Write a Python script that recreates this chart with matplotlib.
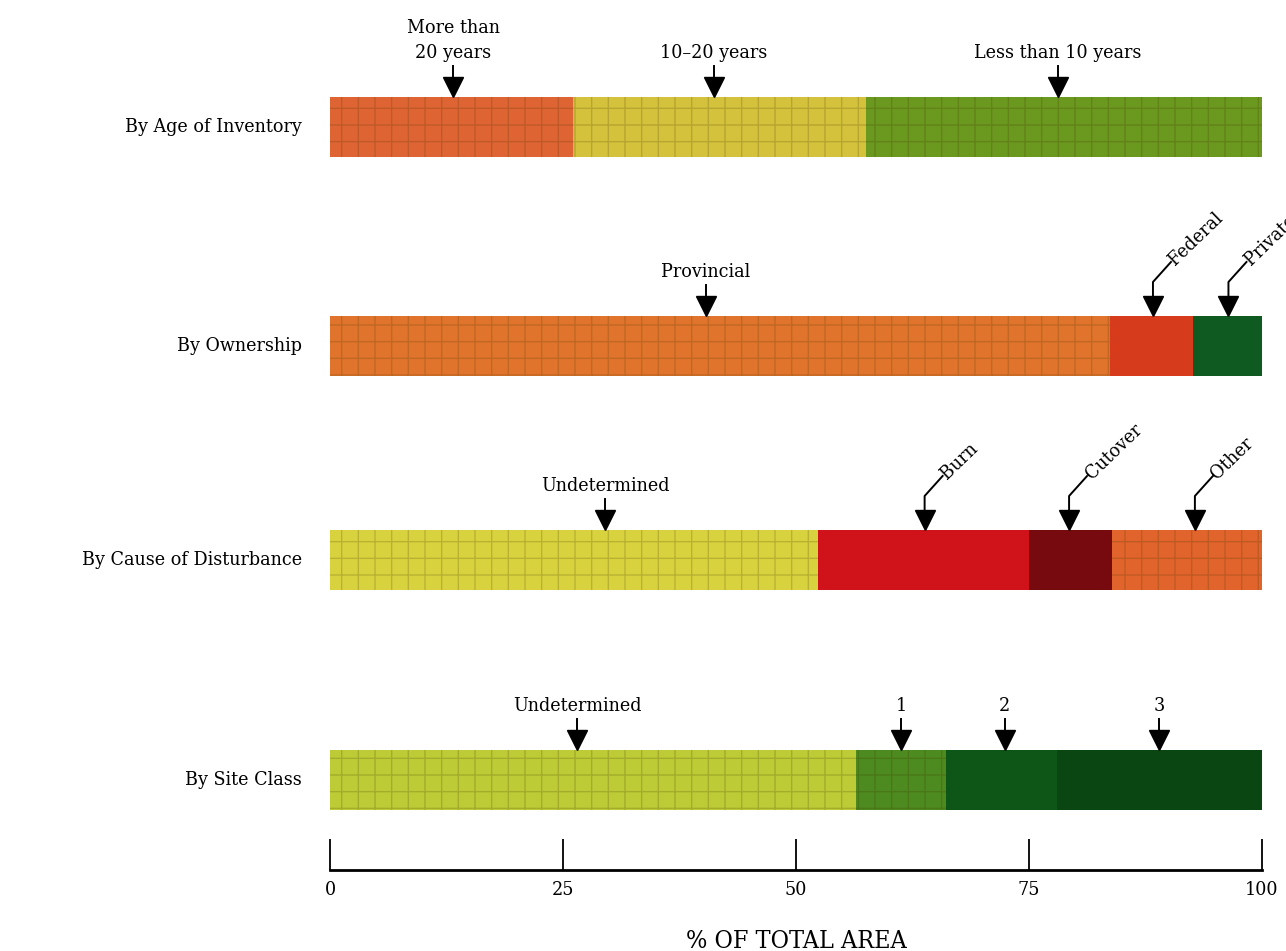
import matplotlib
matplotlib.use("Agg")
import matplotlib.pyplot as plt
import numpy as np

# rows of the chart, top to bottom
row_titles = ["By Age of Inventory", "By Ownership", "By Cause of Disturbance", "By Site Class"]

age_names = ["More than\n20 years", "10\u201320 years", "Less than 10 years"]
age_values = [26.1, 31.4, 42.5]
age_arrows = [13.2, 41.2, 78.1]

own_names = ["Provincial", "Federal", "Private"]
own_values = [83.7, 8.9, 7.4]
own_arrows = [40.3, 88.3, 96.4]

dist_names = ["Undetermined", "Burn", "Cutover", "Other"]
dist_values = [52.4, 22.6, 8.9, 16.1]
dist_arrows = [29.5, 63.8, 79.3, 92.8]

site_names = ["Undetermined", "1", "2", "3"]
site_values = [56.4, 9.7, 11.9, 22.0]
site_arrows = [26.5, 61.3, 72.4, 89.0]

xticks = [0, 25, 50, 75, 100]

# styling
colors = [
    ["#df6433", "#d4c23c", "#6b981f"],
    ["#e0742c", "#d63c1c", "#0f5a20"],
    ["#d8d23e", "#d0121a", "#760a0e", "#e0642c"],
    ["#bccb36", "#4d8a20", "#0e5518", "#0a4612"],
]
textured = [
    [True, True, True],
    [True, False, False],
    [True, False, False, True],
    [True, True, False, False],
]
rotated = [
    [False, False, False],
    [False, True, True],
    [False, True, True, True],
    [False, False, False, False],
]

FONT = dict(family="DejaVu Serif", fontstretch="condensed")
PX = 100 / 932.0  # one pixel in x data units


def main():
    plt.rcParams["hatch.linewidth"] = 1.0
    fig = plt.figure(figsize=(12.86, 9.51), dpi=100)
    ax = fig.add_axes([330 / 1286, 1 - 870 / 951, 932 / 1286, 870 / 951])
    ax.set_xlim(0, 100)
    ax.set_ylim(870, 0)  # y in pixel-like units

    row_y = [127, 346, 560, 780]
    bar_h = 60
    all_values = [age_values, own_values, dist_values, site_values]
    all_names = [age_names, own_names, dist_names, site_names]
    all_arrows = [age_arrows, own_arrows, dist_arrows, site_arrows]

    for r, (vals, names, arrows) in enumerate(zip(all_values, all_names, all_arrows)):
        y = row_y[r]
        lefts = np.concatenate([[0], np.cumsum(vals)[:-1]])
        for i, (v, l) in enumerate(zip(vals, lefts)):
            ax.barh(y, v, left=l, height=bar_h, color=colors[r][i], linewidth=0)
            if textured[r][i]:
                ax.barh(y, v, left=l, height=bar_h, facecolor="none",
                        edgecolor=(0.25, 0.2, 0.0, 0.2), hatch="+", linewidth=0)
        ax.text(-3.0, y, row_titles[r], ha="right", va="center", fontsize=14,
                clip_on=False, **FONT)

        tip = y - bar_h / 2
        for name, x, rot in zip(names, arrows, rotated[r]):
            ax.plot([x], [tip - 10], marker="v", markersize=14, color="black",
                    clip_on=False, linestyle="none")
            if rot:
                top = tip - 34
                ex, ey = x + 18 * PX, top - 20
                ax.plot([x, x, ex], [tip - 18, top, ey], color="black", lw=1.4,
                        clip_on=False)
                ax.text(ex + 1 * PX, ey, name, rotation=44, rotation_mode="anchor",
                        ha="left", va="center", fontsize=14, clip_on=False, **FONT)
            else:
                ax.plot([x, x], [tip - 18, tip - 31], color="black", lw=1.4,
                        clip_on=False)
                ax.text(x, tip - 35, name, ha="center", va="bottom", fontsize=14,
                        linespacing=1.5, clip_on=False, **FONT)

    for s in ["left", "right", "top"]:
        ax.spines[s].set_visible(False)
    ax.spines["bottom"].set_linewidth(2)
    ax.set_yticks([])
    ax.set_xticks(xticks)
    ax.set_xticklabels([str(t) for t in xticks], fontsize=14, **FONT)
    ax.tick_params(axis="x", direction="in", length=22, width=1.3, pad=8)
    ax.set_xlabel("% OF TOTAL AREA", fontsize=18, labelpad=22,
                  family="DejaVu Serif", fontstretch="condensed")

    fig.savefig("out.png", dpi=100)


if __name__ == "__main__":
    main()
